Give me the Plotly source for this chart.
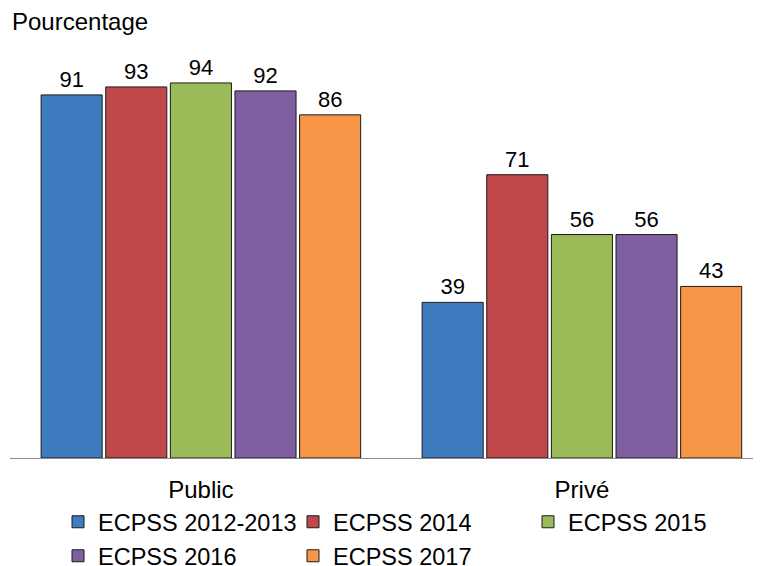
import plotly.graph_objects as go

categories = ["Public", "Privé"]
series_names = ["ECPSS 2012-2013", "ECPSS 2014", "ECPSS 2015", "ECPSS 2016", "ECPSS 2017"]
series_values = [
    [91, 39],
    [93, 71],
    [94, 56],
    [92, 56],
    [86, 43],
]
colors = ["#3F7CBF", "#C0474A", "#9BBB59", "#7F5FA0", "#F79646"]

FONT = "Liberation Sans, Arial, sans-serif"
# the page body has an 8px margin, so the figure is sized to the visible area
W, H = 753, 558

# one legend per entry so the two legend rows sit on a fixed 235px grid
legend_ids = ["legend", "legend2", "legend3", "legend4", "legend5"]
legend_pos = [(50, 514), (285, 514), (520, 514), (50, 548), (285, 548)]

fig = go.Figure()
for name, vals, col, lid in zip(series_names, series_values, colors, legend_ids):
    fig.add_trace(go.Bar(
        x=categories, y=vals, name=name,
        marker=dict(color=col, line=dict(color="#1a1a1a", width=1)),
        text=[str(v) for v in vals], textposition="outside",
        textfont=dict(size=22, color="#000000"),
        cliponaxis=False,
        legend=lid,
    ))

legends = {}
for lid, (px, py) in zip(legend_ids, legend_pos):
    legends[lid] = dict(
        xref="container", yref="container", x=px / W, y=1 - py / H,
        xanchor="left", yanchor="middle",
        font=dict(size=23.5, color="#000000", family=FONT), bgcolor="rgba(0,0,0,0)",
        itemclick=False, itemdoubleclick=False,
    )

fig.update_layout(
    width=W, height=H,
    margin=dict(l=2, r=0, t=51, b=108, autoexpand=False),
    paper_bgcolor="white", plot_bgcolor="white",
    font=dict(family=FONT, size=22, color="#000000"),
    barmode="group", bargap=0.152, bargroupgap=0.055,
    showlegend=True,
    xaxis=dict(range=[-0.501, 1.470], showline=True, linecolor="#8c8c8c", linewidth=1,
               ticks="", showgrid=False, tickfont=dict(size=24), ticklabelstandoff=10),
    yaxis=dict(range=[0, 100], visible=False, showgrid=False),
    annotations=[dict(text="Pourcentage", xref="paper", yref="paper", x=0, y=1,
                      xanchor="left", yanchor="bottom", yshift=22, showarrow=False,
                      font=dict(size=24, color="#000000"))],
    **legends,
)

fig.write_html("out.html")
